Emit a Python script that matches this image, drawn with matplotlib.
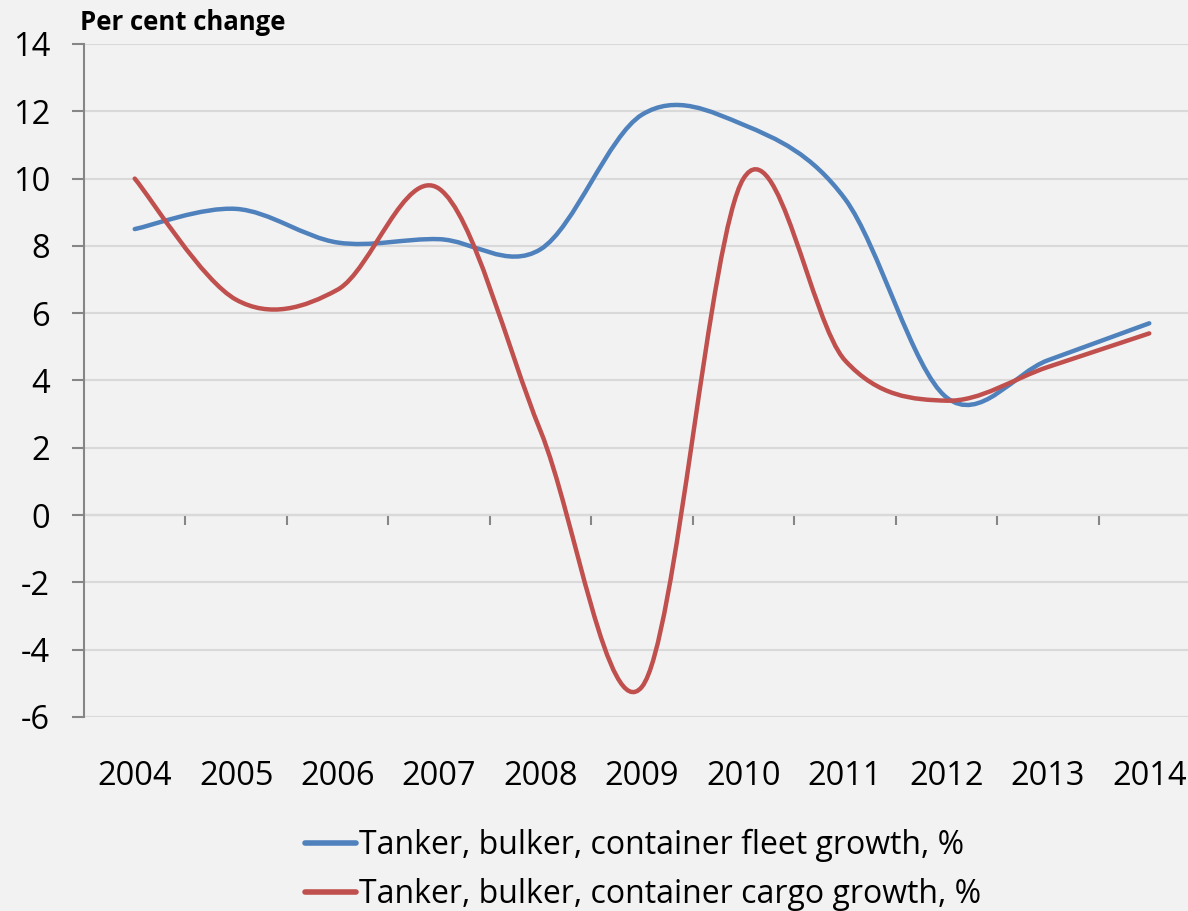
import matplotlib
matplotlib.use("Agg")
import matplotlib.pyplot as plt
from matplotlib.path import Path
from matplotlib.patches import PathPatch
from matplotlib.lines import Line2D

# data
years = ["2004", "2005", "2006", "2007", "2008", "2009", "2010", "2011", "2012", "2013", "2014"]
fleet_growth = [8.5, 9.1, 8.1, 8.2, 7.9, 11.9, 11.6, 9.4, 3.5, 4.6, 5.7]
cargo_growth = [10.0, 6.4, 6.7, 9.7, 2.5, -5.1, 10.0, 4.6, 3.4, 4.4, 5.4]
fleet_label = "Tanker, bulker, container fleet growth, %"
cargo_label = "Tanker, bulker, container cargo growth, %"

BLUE = "#4F81BD"
RED = "#C0504D"
GREY = "#868686"
BG = "#F2F2F2"

plt.rcParams["font.family"] = ["Open Sans", "DejaVu Sans"]
plt.rcParams["axes.unicode_minus"] = False


def smooth_path(xs, ys):
    """Excel-style smoothed line: cubic bezier between points, control points from neighbours."""
    n = len(xs)
    verts = [(xs[0], ys[0])]
    codes = [Path.MOVETO]
    for i in range(n - 1):
        x0, y0 = xs[max(i - 1, 0)], ys[max(i - 1, 0)]
        x1, y1 = xs[i], ys[i]
        x2, y2 = xs[i + 1], ys[i + 1]
        x3, y3 = xs[min(i + 2, n - 1)], ys[min(i + 2, n - 1)]
        c1 = (x1 + (x2 - x0) / 6.0, y1 + (y2 - y0) / 6.0)
        c2 = (x2 - (x3 - x1) / 6.0, y2 - (y3 - y1) / 6.0)
        verts += [c1, c2, (x2, y2)]
        codes += [Path.CURVE4] * 3
    return Path(verts, codes)


fig = plt.figure(figsize=(11.88, 9.11), dpi=100, facecolor=BG)
ax = fig.add_axes([84 / 1188, 1 - 717 / 911, 1116 / 1188, 673 / 911])
ax.set_facecolor(BG)

xs = list(range(len(years)))
for vals, col in [(fleet_growth, BLUE), (cargo_growth, RED)]:
    ax.add_patch(PathPatch(smooth_path(xs, vals), facecolor="none", edgecolor=col,
                           lw=3.2, capstyle="round", joinstyle="round", zorder=3))

ax.set_xlim(-0.5, len(years) - 0.5)
ax.set_ylim(-6, 14)
ax.set_yticks(range(-6, 15, 2))
ax.yaxis.grid(True, color="#D9D9D9", lw=1.5)
ax.set_axisbelow(True)

for s in ["top", "right", "bottom"]:
    ax.spines[s].set_visible(False)
ax.spines["left"].set_color(GREY)
ax.spines["left"].set_linewidth(1.5)
ax.tick_params(axis="y", direction="out", length=8.5, width=1.5, color=GREY,
               labelsize=23.5, pad=16)

ax.set_xticks(xs)
ax.set_xticklabels(years)
ax.tick_params(axis="x", length=0, labelsize=23.5, pad=31)

# horizontal axis line at zero with category separator ticks
zero_pos = (0 - ax.get_ylim()[0]) / (ax.get_ylim()[1] - ax.get_ylim()[0])
sec = ax.secondary_xaxis(zero_pos)
sec.set_xticks([x + 0.5 for x in xs[:-1]])
sec.set_xticklabels([])
sec.tick_params(direction="out", length=7, width=1.5, color=GREY)
sec.spines["bottom"].set_color(GREY)
sec.spines["bottom"].set_linewidth(1.5)

fig.text(80 / 1188, 1 - 22 / 911, "Per cent change", fontsize=18.5, fontweight="bold",
         ha="left", va="center")

handles = [Line2D([], [], color=BLUE, lw=4, solid_capstyle="round"),
           Line2D([], [], color=RED, lw=4, solid_capstyle="round")]
fig.legend(handles, [fleet_label, cargo_label], loc="upper center",
           bbox_to_anchor=(643 / 1188, 1 - 813 / 911), frameon=False, fontsize=23,
           handlelength=1.6, handletextpad=0.1, labelspacing=0.5, borderpad=0)

fig.savefig("out.png", dpi=100, facecolor=BG)
